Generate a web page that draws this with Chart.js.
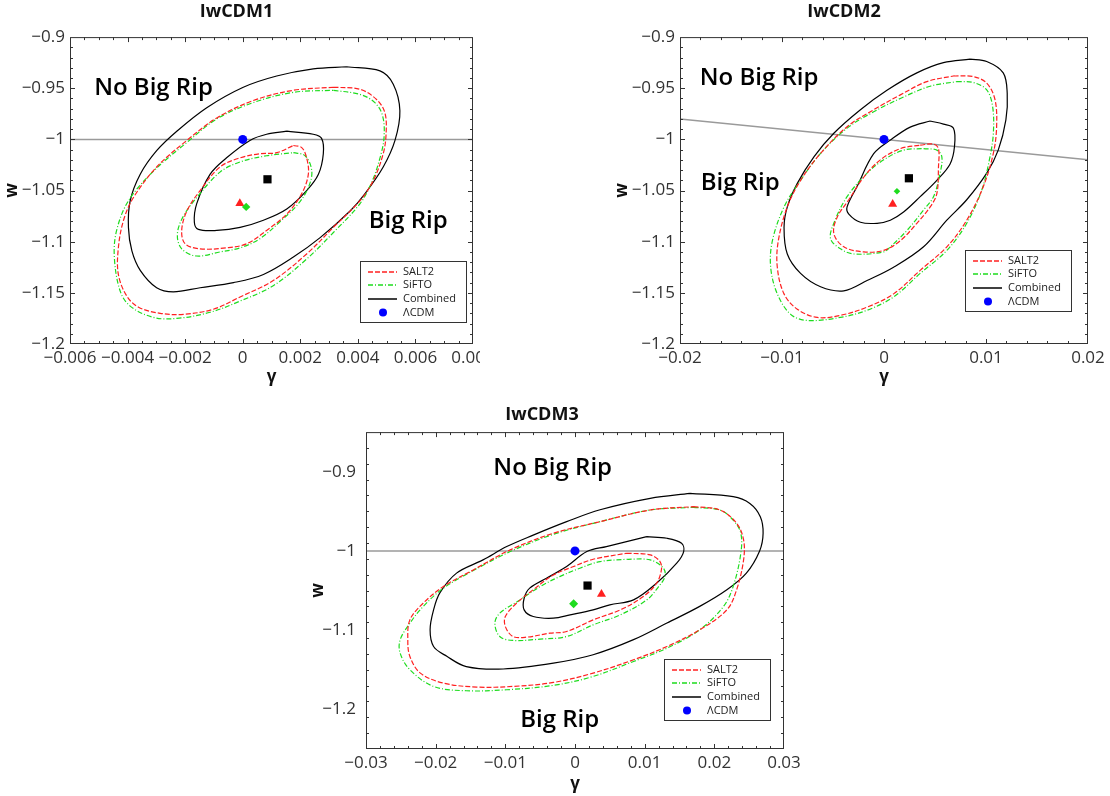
<!DOCTYPE html>
<html>
<head>
<meta charset="utf-8">
<title>IwCDM contours</title>
<script src="https://cdn.jsdelivr.net/npm/chart.js@4.4.0/dist/chart.umd.min.js"></script>
<style>
  body { margin: 0; background: #fff; width: 1110px; height: 796px; overflow: hidden; position: relative; }
  .panel { position: absolute; overflow: hidden; }
  canvas { display: block; }
</style>
</head>
<body>
<div class="panel" style="left:0;top:0;width:480px;height:392px"><canvas id="c1" width="510" height="392"></canvas></div>
<div class="panel" style="left:600px;top:0;width:510px;height:392px"><canvas id="c2" width="510" height="392"></canvas></div>
<div class="panel" style="left:300px;top:400px;width:510px;height:396px"><canvas id="c3" width="510" height="400"></canvas></div>
<script>
// ---- tick labels ----
var p1XTicks = [-0.006, -0.004, -0.002, 0, 0.002, 0.004, 0.006, 0.008];
var p1YTicks = [-1.2, -1.15, -1.1, -1.05, -1, -0.95, -0.9];
var p2XTicks = [-0.02, -0.01, 0, 0.01, 0.02];
var p2YTicks = [-1.2, -1.15, -1.1, -1.05, -1, -0.95, -0.9];
var p3XTicks = [-0.03, -0.02, -0.01, 0, 0.01, 0.02, 0.03];
var p3YTicks = [-1.2, -1.1, -1, -0.9];

var legendNames = ['SALT2', 'SiFTO', 'Combined', '\u039BCDM'];

// ---- IwCDM1 ----
var p1Salt2Out = [[0.00315,-0.949],[0.00407,-0.951],[0.00465,-0.961],[0.00494,-0.974],[0.00498,-0.995],[0.00488,-1.014],[0.00454,-1.040],[0.00407,-1.060],[0.00315,-1.086],[0.00222,-1.112],[0.00106,-1.138],[-0.00009,-1.154],[-0.00102,-1.166],[-0.00206,-1.171],[-0.00287,-1.170],[-0.00362,-1.164],[-0.00403,-1.153],[-0.00432,-1.132],[-0.00432,-1.106],[-0.00414,-1.079],[-0.0038,-1.057],[-0.00299,-1.027],[-0.00194,-1.001],[-0.0009,-0.979],[0.00037,-0.962],[0.00176,-0.952]];
var p1SiftoOut = [[0.00315,-0.952],[0.00407,-0.956],[0.00459,-0.964],[0.00486,-0.977],[0.00491,-0.998],[0.00477,-1.018],[0.00448,-1.042],[0.00407,-1.063],[0.00315,-1.091],[0.00222,-1.117],[0.00106,-1.143],[-0.00009,-1.158],[-0.00113,-1.169],[-0.00229,-1.175],[-0.0031,-1.174],[-0.00391,-1.163],[-0.00426,-1.148],[-0.00446,-1.115],[-0.00438,-1.089],[-0.00397,-1.06],[-0.0031,-1.031],[-0.00194,-1.003],[-0.0009,-0.98],[0.00037,-0.964],[0.00176,-0.954]];
var p1CombOut = [[0.00361,-0.929],[0.00477,-0.933],[0.00523,-0.946],[0.00546,-0.972],[0.00529,-1.001],[0.00488,-1.027],[0.00425,-1.053],[0.00373,-1.070],[0.00269,-1.096],[0.00176,-1.115],[0.00072,-1.132],[-0.00032,-1.140],[-0.00148,-1.145],[-0.00241,-1.149],[-0.00299,-1.145],[-0.00356,-1.128],[-0.00385,-1.109],[-0.00397,-1.086],[-0.00391,-1.060],[-0.00356,-1.034],[-0.00299,-1.011],[-0.00229,-0.992],[-0.00125,-0.969],[0.00002,-0.949],[0.00118,-0.938],[0.00245,-0.931]];
var p1Salt2In = [[0.00176,-1.006],[0.00205,-1.008],[0.00222,-1.018],[0.00228,-1.034],[0.00205,-1.053],[0.00153,-1.073],[0.00083,-1.089],[0.00014,-1.102],[-0.00056,-1.106],[-0.00148,-1.107],[-0.002,-1.102],[-0.00212,-1.089],[-0.00194,-1.070],[-0.00148,-1.050],[-0.00079,-1.027],[-0.00009,-1.018],[0.0006,-1.014],[0.00118,-1.013]];
var p1SiftoIn = [[0.00176,-1.013],[0.00217,-1.016],[0.0024,-1.031],[0.00228,-1.047],[0.00193,-1.063],[0.00135,-1.079],[0.0006,-1.097],[-0.00009,-1.106],[-0.00079,-1.110],[-0.0016,-1.114],[-0.00212,-1.107],[-0.00227,-1.093],[-0.00208,-1.076],[-0.0016,-1.057],[-0.00079,-1.032],[-0.00009,-1.022],[0.00083,-1.016]];
var p1CombIn = [[0.00153,-0.992],[0.00245,-0.995],[0.00274,-0.999],[0.0028,-1.014],[0.00263,-1.034],[0.00222,-1.050],[0.00153,-1.068],[0.00072,-1.079],[-0.00009,-1.086],[-0.0009,-1.089],[-0.00154,-1.088],[-0.00168,-1.081],[-0.0016,-1.063],[-0.00113,-1.034],[-0.00056,-1.018],[0.00025,-1.001],[0.00083,-0.995]];
var p1Best = { lcdm: [0, -1], salt2: [-0.0001, -1.0625], sifto: [0.00012, -1.066], comb: [0.00086, -1.039] };
var p1Border = [[-0.006, -1], [0.008, -1]];

// ---- IwCDM2 ----
var p2Salt2Out = [[0.00681,-0.938],[0.00876,-0.9386],[0.01007,-0.945],[0.01088,-0.961],[0.01104,-0.9876],[0.01072,-1.0137],[0.00974,-1.046],[0.00811,-1.079],[0.00616,-1.105],[0.00355,-1.128],[0.00094,-1.151],[-0.00166,-1.164],[-0.00427,-1.172],[-0.00655,-1.174],[-0.0085,-1.166],[-0.0098,-1.151],[-0.01046,-1.125],[-0.01036,-1.099],[-0.00948,-1.066],[-0.00818,-1.04],[-0.00622,-1.0137],[-0.00362,-0.9876],[-0.00101,-0.971],[0.0016,-0.9565],[0.0042,-0.9435]];
var p2SiftoOut = [[0.00713,-0.9435],[0.00876,-0.9444],[0.01007,-0.9516],[0.01065,-0.968],[0.01072,-0.994],[0.01039,-1.017],[0.00958,-1.0497],[0.00811,-1.082],[0.00616,-1.1085],[0.00355,-1.131],[0.00094,-1.154],[-0.00166,-1.167],[-0.00427,-1.174],[-0.00752,-1.177],[-0.00915,-1.171],[-0.01046,-1.151],[-0.01111,-1.125],[-0.01094,-1.099],[-0.0098,-1.066],[-0.00818,-1.04],[-0.00622,-1.0137],[-0.00362,-0.989],[-0.00101,-0.973],[0.0016,-0.96],[0.00453,-0.948]];
var p2CombOut = [[0.00844,-0.9216],[0.01007,-0.9239],[0.01169,-0.935],[0.01208,-0.955],[0.01195,-0.981],[0.0112,-1.0105],[0.01007,-1.033],[0.00811,-1.059],[0.00616,-1.079],[0.00388,-1.105],[0.00094,-1.125],[-0.00166,-1.138],[-0.00394,-1.148],[-0.00622,-1.144],[-0.00818,-1.131],[-0.00948,-1.112],[-0.0098,-1.086],[-0.00948,-1.066],[-0.0085,-1.043],[-0.00687,-1.017],[-0.00492,-0.994],[-0.00231,-0.971],[0.00029,-0.952],[0.00322,-0.935],[0.00583,-0.925]];
var p2Salt2In = [[0.00355,-1.0056],[0.00485,-1.0046],[0.00534,-1.009],[0.00534,-1.027],[0.00518,-1.053],[0.00453,-1.066],[0.00322,-1.082],[0.0016,-1.099],[-0.00003,-1.1085],[-0.00199,-1.110],[-0.00394,-1.105],[-0.00492,-1.092],[-0.00459,-1.076],[-0.00345,-1.059],[-0.00199,-1.037],[-0.00036,-1.020],[0.0016,-1.009]];
var p2SiftoIn = [[0.00388,-1.009],[0.00518,-1.0105],[0.00567,-1.017],[0.0055,-1.033],[0.00485,-1.056],[0.00388,-1.069],[0.00225,-1.089],[0.00062,-1.105],[-0.00003,-1.110],[-0.00296,-1.112],[-0.00427,-1.107],[-0.00524,-1.097],[-0.00492,-1.082],[-0.00362,-1.056],[-0.00166,-1.033],[-0.00003,-1.020],[0.00192,-1.0105]];
var p2CombIn = [[0.00453,-0.982],[0.00583,-0.985],[0.00681,-0.989],[0.00691,-1.007],[0.00648,-1.024],[0.00518,-1.04],[0.00355,-1.056],[0.00192,-1.071],[0.00062,-1.079],[-0.00068,-1.082],[-0.00231,-1.081],[-0.00345,-1.073],[-0.00362,-1.066],[-0.00264,-1.046],[-0.00101,-1.014],[0.00062,-1.0007],[0.00257,-0.988]];
var p2Best = { lcdm: [0, -1], salt2: [0.00085, -1.0634], sifto: [0.00127, -1.0507], comb: [0.00244, -1.038] };
var p2Border = [[-0.02, -0.98], [0.02, -1.02]];

// ---- IwCDM3 ----
var p3Salt2Out = [[0.017,-0.9441],[0.0208,-0.9483],[0.0232,-0.9651],[0.0242,-0.9861],[0.0242,-1.0113],[0.0232,-1.049],[0.0218,-1.0744],[0.0179,-1.0996],[0.0132,-1.1206],[0.0084,-1.1374],[0.0026,-1.1542],[-0.0031,-1.166],[-0.0089,-1.171],[-0.0141,-1.1718],[-0.0189,-1.1668],[-0.0222,-1.1542],[-0.0237,-1.1332],[-0.024,-1.1122],[-0.0237,-1.087],[-0.0218,-1.066],[-0.0189,-1.045],[-0.0146,-1.024],[-0.0093,-0.9987],[-0.0031,-0.9777],[0.0036,-0.963],[0.0108,-0.9483]];
var p3SiftoOut = [[0.017,-0.945],[0.0208,-0.9483],[0.0227,-0.961],[0.0238,-0.9777],[0.0238,-1.003],[0.0227,-1.045],[0.0213,-1.0702],[0.0179,-1.0996],[0.0132,-1.1227],[0.0084,-1.1395],[0.0026,-1.1584],[-0.0031,-1.1697],[-0.0098,-1.1752],[-0.0156,-1.1765],[-0.0203,-1.171],[-0.0237,-1.15],[-0.0251,-1.129],[-0.0251,-1.1122],[-0.0237,-1.0912],[-0.0218,-1.0702],[-0.0189,-1.047],[-0.0146,-1.0248],[-0.0093,-1.0008],[-0.0031,-0.979],[0.0036,-0.963],[0.0108,-0.9483]];
var p3CombOut = [[0.0165,-0.9273],[0.0227,-0.9315],[0.0251,-0.94],[0.0266,-0.9567],[0.027,-0.9777],[0.0265,-1.0],[0.0246,-1.028],[0.0218,-1.049],[0.0179,-1.070],[0.0132,-1.091],[0.0084,-1.112],[0.0026,-1.131],[-0.0031,-1.1416],[-0.0103,-1.149],[-0.0156,-1.146],[-0.0184,-1.133],[-0.0203,-1.1206],[-0.0208,-1.0996],[-0.0203,-1.0744],[-0.0194,-1.053],[-0.017,-1.028],[-0.0132,-1.0113],[-0.0098,-0.9945],[-0.006,-0.980],[-0.0012,-0.963],[0.0036,-0.948],[0.0108,-0.9336]];
var p3Salt2In = [[0.0074,-1.0029],[0.0108,-1.005],[0.0122,-1.0134],[0.0124,-1.024],[0.0117,-1.0408],[0.0098,-1.0576],[0.0065,-1.0744],[0.0026,-1.087],[-0.0012,-1.1017],[-0.0036,-1.1038],[-0.0069,-1.1088],[-0.0089,-1.108],[-0.01,-1.0954],[-0.01,-1.0828],[-0.0084,-1.066],[-0.006,-1.049],[-0.0031,-1.0303],[-0.0002,-1.0197],[0.0026,-1.0105]];
var p3SiftoIn = [[0.0074,-1.0105],[0.0108,-1.0113],[0.0127,-1.0218],[0.0129,-1.0324],[0.012,-1.045],[0.0103,-1.0618],[0.0065,-1.0807],[0.0026,-1.0933],[-0.0012,-1.108],[-0.005,-1.1113],[-0.0089,-1.113],[-0.0108,-1.108],[-0.0115,-1.0912],[-0.0108,-1.0786],[-0.0079,-1.0618],[-0.005,-1.045],[-0.0022,-1.0324],[0.0007,-1.0218],[0.0036,-1.0134]];
var p3CombIn = [[0.0103,-0.982],[0.0132,-0.984],[0.0153,-0.9903],[0.0156,-1.0008],[0.0146,-1.0155],[0.0117,-1.0408],[0.0084,-1.0618],[0.005,-1.068],[0.0026,-1.0744],[-0.0007,-1.0807],[-0.0031,-1.0849],[-0.006,-1.0828],[-0.0073,-1.0744],[-0.0073,-1.0597],[-0.0065,-1.047],[-0.0041,-1.0345],[-0.0012,-1.0197],[0.0017,-1.0008],[0.0045,-0.9945],[0.0074,-0.9882]];
var p3Best = { lcdm: [0, -1], salt2: [0.0038, -1.0546], sifto: [-0.0002, -1.0668], comb: [0.0018, -1.0437] };
var p3Border = [[-0.03, -1], [0.03, -1]];

var RED = '#ff2020';
var GREEN = '#1edc1e';

Chart.defaults.font.family = '"Open Sans", "Noto Sans", sans-serif';
Chart.defaults.color = '#333';

var panels = [
  {
    id: 'c1', title: 'IwCDM1',
    xr: [-0.006, 0.008], yr: [-1.2, -0.9], xTicks: p1XTicks, yTicks: p1YTicks, xMinor: 0.0005, yMinor: 0.01,
    area: { left: 70, top: 37, right: 473, bottom: 344 }, titlePad: { top: 1.5, bottom: 14 },
    wPad: 1.8, gPad: 4.8, yTickPad: 5,
    legend: { right: 7, bottom: 22 },
    notes: [{ text: 'No Big Rip', x: -0.0031, y: -0.9485 }, { text: 'Big Rip', x: 0.00575, y: -1.0778 }],
    c: { salt2Out: p1Salt2Out, siftoOut: p1SiftoOut, combOut: p1CombOut, salt2In: p1Salt2In, siftoIn: p1SiftoIn, combIn: p1CombIn },
    best: p1Best, border: p1Border, diamond: 4.2
  },
  {
    id: 'c2', title: 'IwCDM2',
    xr: [-0.02, 0.02], yr: [-1.2, -0.9], xTicks: p2XTicks, yTicks: p2YTicks, xMinor: 0.002, yMinor: 0.01,
    area: { left: 80, top: 37, right: 488, bottom: 344 }, titlePad: { top: 1.5, bottom: 14 },
    wPad: 11.8, gPad: 4.8, yTickPad: 5,
    legend: { right: 17, bottom: 33 },
    notes: [{ text: 'No Big Rip', x: -0.01225, y: -0.9379 }, { text: 'Big Rip', x: -0.0141, y: -1.0415 }],
    c: { salt2Out: p2Salt2Out, siftoOut: p2SiftoOut, combOut: p2CombOut, salt2In: p2Salt2In, siftoIn: p2SiftoIn, combIn: p2CombIn },
    best: p2Best, border: p2Border, diamond: 3.3
  },
  {
    id: 'c3', title: 'IwCDM3',
    xr: [-0.03, 0.03], yr: [-1.25, -0.85], xTicks: p3XTicks, yTicks: p3YTicks, xMinor: 0.002, yMinor: 0.02,
    area: { left: 66, top: 32, right: 484, bottom: 349 }, titlePad: { top: 4.5, bottom: 6 },
    wPad: 8.4, gPad: 5.8, yTickPad: 10,
    legend: { right: 14, bottom: 29 },
    notes: [{ text: 'No Big Rip', x: -0.0032, y: -0.8937 }, { text: 'Big Rip', x: -0.0022, y: -1.2109 }],
    c: { salt2Out: p3Salt2Out, siftoOut: p3SiftoOut, combOut: p3CombOut, salt2In: p3Salt2In, siftoIn: p3SiftoIn, combIn: p3CombIn },
    best: p3Best, border: p3Border, diamond: 4.5
  }
];

function pts(a, close) {
  var p = a.map(function (v) { return { x: v[0], y: v[1] }; });
  if (close) p.push({ x: a[0][0], y: a[0][1] });
  return p;
}

function fmt(v) {
  return String(+v.toFixed(6)).replace('-', '\u2212');
}

function marker(v, style, color, r, key) {
  return {
    data: pts([v]), showLine: false, pointStyle: style, pointRadius: r,
    pointBackgroundColor: color, pointBorderColor: color, pointBorderWidth: 0, legendKey: key
  };
}

function contour(a, color, dash, key) {
  return {
    data: pts(a, true), showLine: true, pointRadius: 0, borderColor: color, borderWidth: 1.2,
    borderDash: dash, tension: 0.35, fill: false, legendKey: key
  };
}

var cfgById = {};

var framePlugin = {
  id: 'frame',
  afterDatasetsDraw: function (chart) {
    var p = cfgById[chart.canvas.id];
    var ctx = chart.ctx, xs = chart.scales.x, ys = chart.scales.y;
    ctx.save();
    ctx.fillStyle = '#000';
    ctx.font = '600 24px "Open Sans", "Noto Sans", sans-serif';
    ctx.textAlign = 'center';
    ctx.textBaseline = 'alphabetic';
    p.notes.forEach(function (n) {
      ctx.fillText(n.text, xs.getPixelForValue(n.x), ys.getPixelForValue(n.y) + 0.36 * 24);
    });
    ctx.restore();
  },
  afterDraw: function (chart) {
    var p = cfgById[chart.canvas.id];
    var ctx = chart.ctx, a = chart.chartArea, xs = chart.scales.x, ys = chart.scales.y;
    ctx.save();
    ctx.strokeStyle = '#333';
    ctx.lineWidth = 1;
    ctx.setLineDash([]);
    ctx.strokeRect(a.left + 0.5, a.top + 0.5, a.right - a.left - 1, a.bottom - a.top - 1);

    function isMajor(v, list) {
      return list.some(function (t) { return Math.abs(t - v) < 1e-9; });
    }
    ctx.beginPath();
    var n = Math.round((p.xr[1] - p.xr[0]) / p.xMinor);
    for (var i = 1; i < n; i++) {
      var v = p.xr[0] + i * p.xMinor;
      var px = Math.round(xs.getPixelForValue(v)) + 0.5;
      var len = isMajor(v, p.xTicks) ? 5 : 3;
      ctx.moveTo(px, a.bottom); ctx.lineTo(px, a.bottom - len);
      ctx.moveTo(px, a.top); ctx.lineTo(px, a.top + len);
    }
    n = Math.round((p.yr[1] - p.yr[0]) / p.yMinor);
    for (i = 1; i < n; i++) {
      v = p.yr[0] + i * p.yMinor;
      var py = Math.round(ys.getPixelForValue(v)) + 0.5;
      len = isMajor(v, p.yTicks) ? 5 : 3;
      ctx.moveTo(a.left, py); ctx.lineTo(a.left + len, py);
      ctx.moveTo(a.right, py); ctx.lineTo(a.right - len, py);
    }
    ctx.stroke();

    // legend box
    var w = 106, h = 61;
    var lx = a.right - p.legend.right - w, ly = a.bottom - p.legend.bottom - h;
    ctx.fillStyle = '#fff';
    ctx.fillRect(lx, ly, w, h);
    ctx.strokeStyle = '#333';
    ctx.strokeRect(lx + 0.5, ly + 0.5, w, h);
    ctx.font = '11px "Open Sans", "Noto Sans", sans-serif';
    ctx.textBaseline = 'middle';
    ctx.textAlign = 'left';
    legendNames.forEach(function (name, k) {
      var ds = chart.data.datasets.filter(function (d) { return d.legendKey === name; })[0];
      var cy = ly + 10.5 + k * 13.7;
      if (ds.showLine) {
        ctx.strokeStyle = ds.borderColor;
        ctx.lineWidth = 1.5;
        ctx.setLineDash(ds.borderDash);
        ctx.beginPath();
        ctx.moveTo(lx + 8, Math.round(cy));
        ctx.lineTo(lx + 37, Math.round(cy));
        ctx.stroke();
        ctx.setLineDash([]);
      } else {
        ctx.fillStyle = ds.pointBackgroundColor;
        ctx.beginPath();
        ctx.arc(lx + 23, cy, 4, 0, Math.PI * 2);
        ctx.fill();
      }
      ctx.fillStyle = '#222';
      ctx.fillText(name, lx + 43, cy);
    });
    ctx.restore();
  }
};

panels.forEach(function (p) {
  var canvas = document.getElementById(p.id);
  cfgById[p.id] = p;
  var W = canvas.width, H = canvas.height;
  var datasets = [
    marker(p.best.lcdm, 'circle', '#0000ff', 4.5, '\u039BCDM'),
    marker(p.best.sifto, 'rectRot', GREEN, p.diamond),
    marker(p.best.salt2, 'triangle', RED, 5.2),
    marker(p.best.comb, 'rect', '#000', 5.8),
    contour(p.c.salt2In, RED, [5, 2], 'SALT2'),
    contour(p.c.salt2Out, RED, [5, 2]),
    contour(p.c.siftoIn, GREEN, [5, 2, 1, 2], 'SiFTO'),
    contour(p.c.siftoOut, GREEN, [5, 2, 1, 2]),
    contour(p.c.combIn, '#000', [], 'Combined'),
    contour(p.c.combOut, '#000', []),
    { data: pts(p.border), showLine: true, pointRadius: 0, borderColor: '#9a9a9a', borderWidth: 1.5, tension: 0 }
  ];

  new Chart(canvas, {
    type: 'scatter',
    data: { datasets: datasets },
    options: {
      responsive: false,
      animation: false,
      events: [],
      layout: { padding: { left: 0, top: 0, right: W - p.area.right, bottom: 0 } },
      plugins: {
        legend: { display: false },
        tooltip: { enabled: false },
        title: {
          display: true, text: p.title, color: '#111',
          font: { size: 18, weight: 'bold' }, padding: p.titlePad
        }
      },
      scales: {
        x: {
          type: 'linear', min: p.xr[0], max: p.xr[1],
          grid: { display: false, drawTicks: false },
          border: { display: false },
          afterBuildTicks: function (s) { s.ticks = p.xTicks.map(function (v) { return { value: v }; }); },
          afterFit: function (s) { s.height = H - p.area.bottom; },
          ticks: { padding: 4, maxRotation: 0, autoSkip: false, font: { size: 17 }, color: '#333', callback: fmt },
          title: { display: true, text: '\u03B3', color: '#111', font: { size: 17, weight: 'bold' }, padding: { top: 0, bottom: p.gPad } }
        },
        y: {
          type: 'linear', min: p.yr[0], max: p.yr[1],
          grid: { display: false, drawTicks: false },
          border: { display: false },
          afterBuildTicks: function (s) { s.ticks = p.yTicks.map(function (v) { return { value: v }; }); },
          afterFit: function (s) { s.width = p.area.left; },
          ticks: { padding: p.yTickPad, autoSkip: false, font: { size: 17 }, color: '#333', callback: fmt },
          title: { display: true, text: 'w', color: '#111', font: { size: 17, weight: 'bold' }, padding: { top: p.wPad, bottom: 0 } }
        }
      }
    },
    plugins: [framePlugin]
  });
});
</script>
</body>
</html>
